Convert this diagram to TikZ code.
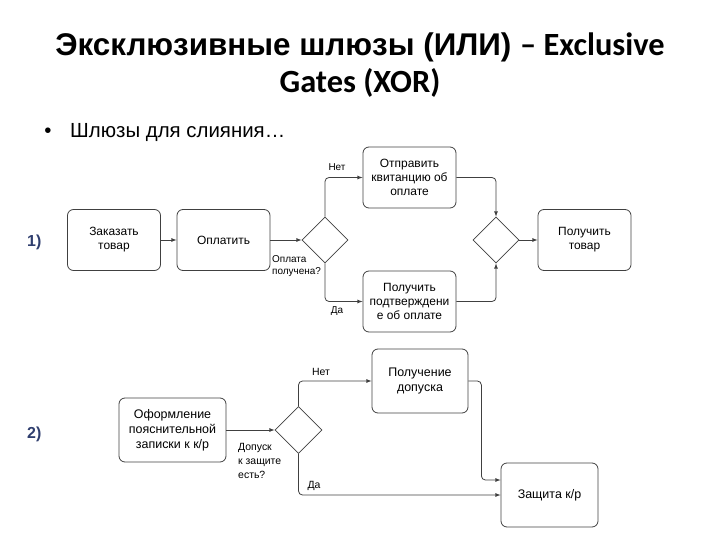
\documentclass[tikz,border=0pt]{standalone}
\usepackage{fontspec}
\setmainfont{Liberation Sans}
\newfontfamily\calibri{Carlito}
\usetikzlibrary{shapes.geometric}
\definecolor{linegray}{RGB}{64,64,64}
\definecolor{numblue}{RGB}{47,62,110}

\begin{document}
\begin{tikzpicture}[x=1bp, y=-1bp, >=latex,
    task/.style={rectangle,draw=linegray,line width=0.8bp,rounded corners=6bp,minimum width=93bp,minimum height=61bp,inner sep=1bp,align=center,font=\fontsize{12}{14}\selectfont},
    bigtask/.style={task,minimum width=97bp,minimum height=64bp,font=\fontsize{12.5}{15}\selectfont},
    gate/.style={diamond,draw=linegray,line width=0.8bp,minimum width=46bp,minimum height=46bp,inner sep=0pt},
    flow/.style={->,draw=linegray,line width=0.8bp,rounded corners=4bp},
    lbl/.style={inner sep=0pt,align=left,font=\fontsize{10}{12.5}\selectfont},
    biglbl/.style={lbl,font=\fontsize{10.5}{14}\selectfont}]
    \useasboundingbox (0,0) rectangle (720,540);

    % title
    \node[anchor=base,inner sep=0pt] (title1) at (360,56) {\fontsize{31.5}{34}\selectfont\bfseries Эксклюзивные шлюзы (ИЛИ) {\calibri\fontsize{32.5}{34}\selectfont – Exclusive}};
    \node[anchor=base,inner sep=0pt] (title2) at (360,93) {\calibri\fontsize{32.5}{34}\selectfont\bfseries Gates (XOR)};
    \node[anchor=base,inner sep=0pt] (dot) at (48,138) {\fontsize{20.5}{24}\selectfont •};
    \node[anchor=base west,inner sep=0pt] (sub) at (70,138) {\fontsize{20.5}{24}\selectfont Шлюзы для слияния…};

    \node[anchor=base west,inner sep=0pt,text=numblue,font=\bfseries\fontsize{16}{18}\selectfont] (n1) at (27,247) {1)};
    \node[anchor=base west,inner sep=0pt,text=numblue,font=\bfseries\fontsize{16}{18}\selectfont] (n2) at (27,438) {2)};

    % 1)
    \node[task] (1) at (114,240) {Заказать\\товар};
    \node[task] (2) at (223.5,240) {Оплатить};
    \node[gate] (3) at (325,240) {};
    \node[task] (4) at (409.5,177.5) {Отправить\\квитанцию об\\оплате};
    \node[task] (5) at (409.5,301.5) {Получить\\подтверждени\\е об оплате};
    \node[gate] (6) at (496,240) {};
    \node[task] (7) at (584.5,240) {Получить\\товар};

    \draw[flow] (1) -- (2); \draw[flow] (2) -- (3);
    \draw[flow] (3.north) |- (4.west); \draw[flow] (3.south) |- (5.west);
    \draw[flow] (4.east) -| (6.north); \draw[flow] (5.east) -| (6.south);
    \draw[flow] (6) -- (7);

    \node[lbl] (l1) at (337,167) {Нет};
    \node[lbl] (l2) at (337,311) {Да};
    \node[lbl,anchor=north west] (l3) at (272,255) {Оплата\\получена?};

    % 2)
    \node[bigtask,minimum width=107bp] (8) at (172.5,430) {Оформление\\пояснительной\\записки к к/р};
    \node[gate,minimum width=47bp,minimum height=47bp] (9) at (298.5,430) {};
    \node[bigtask,minimum width=96bp] (10) at (420,381) {Получение\\допуска};
    \node[bigtask] (11) at (549.5,495) {Защита к/р};

    \draw[flow] (8) -- (9);
    \draw[flow] (9.north) |- (10.west);
    \draw[flow] (9.south) |- (11.west);
    \draw[flow] (10.east) -- ++(13,0) |- ([yshift=15bp]11.west);

    \node[biglbl] (l4) at (321,372) {Нет};
    \node[biglbl] (l5) at (314,486) {Да};
    \node[biglbl,anchor=north west] (l6) at (238,443) {Допуск\\к защите\\есть?};
\end{tikzpicture}
\end{document}
